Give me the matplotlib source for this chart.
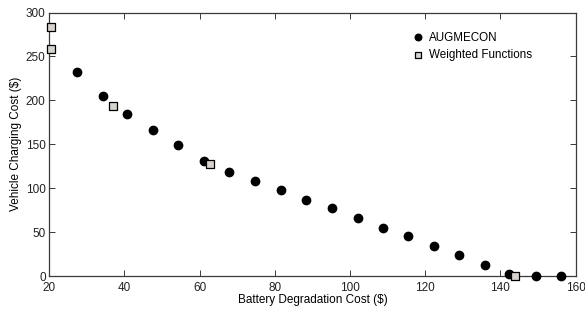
import matplotlib
matplotlib.use("Agg")
import matplotlib.pyplot as plt

plt.rcParams['font.family'] = ['Liberation Sans', 'DejaVu Sans']

# AUGMECON pareto points
aug_x = [27.4, 34.2, 40.7, 47.6, 54.3, 61.2, 67.9, 74.8, 81.6, 88.4, 95.1,
         102.0, 108.7, 115.4, 122.3, 129.0, 136.0, 142.4, 149.4, 156.2]
aug_y = [232.5, 205.5, 184.5, 166.5, 149.0, 131.5, 119.0, 108.0, 98.0, 87.0, 77.0,
         66.0, 55.0, 45.0, 34.0, 23.5, 13.0, 2.5, 0.5, 0.5]

# weighted functions points
wf_x = [20.5, 20.5, 37.1, 62.8, 143.8]
wf_y = [283.5, 258.5, 194.0, 127.5, 0.5]

fig = plt.figure(figsize=(5.85, 3.14), dpi=100)
ax = fig.add_axes([0.084, 0.121, 0.9, 0.839])

ax.scatter(aug_x, aug_y, s=36, c='black', marker='o', label='AUGMECON',
           zorder=3, clip_on=False)
ax.scatter(wf_x, wf_y, s=28, c='#d6d3ce', edgecolors='black', linewidths=0.9,
           marker='s', label='Weighted Functions', zorder=4, clip_on=False)

ax.set_xlim(20, 160)
ax.set_ylim(0, 300)
ax.set_xticks(range(20, 161, 20))
ax.set_yticks(range(0, 301, 50))
ax.set_xlabel('Battery Degradation Cost ($)', fontsize=8.5, labelpad=0.5)
ax.set_ylabel('Vehicle Charging Cost ($)', fontsize=8.5, labelpad=3)

for s in ax.spines.values():
    s.set_color('#3a3a3a')
    s.set_linewidth(0.9)
ax.tick_params(direction='in', top=True, right=True, labelsize=8.5,
               length=4, width=0.7, color='#3a3a3a', labelcolor='#222222')
ax.tick_params(axis='x', pad=4)
ax.tick_params(axis='y', pad=2.5)

ax.legend(loc='upper left', frameon=False, fontsize=8.4, handletextpad=0.55,
          borderaxespad=0, borderpad=0, labelspacing=0.5, handlelength=0.8,
          markerscale=0.78, bbox_to_anchor=(0.691, 0.928))

fig.savefig('out.png', dpi=100)
